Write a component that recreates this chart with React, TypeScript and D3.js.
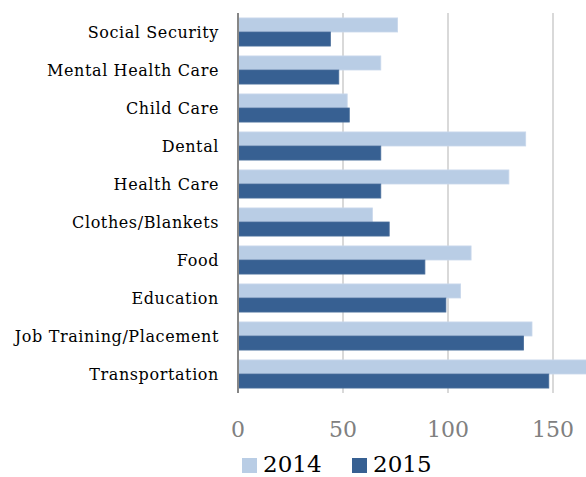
import React from 'react';
import * as d3 from 'd3';

const categories = [
  'Social Security',
  'Mental Health Care',
  'Child Care',
  'Dental',
  'Health Care',
  'Clothes/Blankets',
  'Food',
  'Education',
  'Job Training/Placement',
  'Transportation',
];
const values2014 = [76, 68, 52, 137, 129, 64, 111, 106, 140, 170];
const values2015 = [44, 48, 53, 68, 68, 72, 89, 99, 136, 148];
const seriesNames = ['2014', '2015'];
const xTicks = [0, 50, 100, 150];
const gridTicks = [50, 100, 150, 200];

const WIDTH = 586;
const HEIGHT = 477;
const LEFT = 238;
const TOP = 13;
const BOTTOM = 393;
const FONT = '"DejaVu Serif", "Liberation Serif", serif';
const colors = ['#b9cde5', '#376092'];

const App: React.FC = () => {
  const x = d3.scaleLinear().domain([0, 200]).range([LEFT, LEFT + 420]);
  const y = d3.scaleBand<string>().domain(categories).range([TOP, BOTTOM]).paddingInner(0.26).paddingOuter(0.13);
  const inner = d3.scaleBand<string>().domain(seriesNames).range([0, y.bandwidth()]);
  const series = [values2014, values2015];

  return (
    <svg width={WIDTH} height={HEIGHT} style={{ position: 'absolute', left: 0, top: 0, overflow: 'hidden' }}>
      {/* gridlines */}
      {gridTicks.map(t => (
        <line key={t} x1={x(t)} x2={x(t)} y1={TOP} y2={BOTTOM} stroke="#d9d9d9" strokeWidth={2} />
      ))}
      {/* bars */}
      {categories.map((c, i) => (
        <g key={c}>
          {series.map((vals, s) => (
            <rect
              key={s}
              x={x(0)}
              y={(y(c) ?? 0) + (inner(seriesNames[s]) ?? 0)}
              width={x(vals[i]) - x(0)}
              height={inner.bandwidth()}
              fill={colors[s]}
              stroke={s === 0 ? '#c9d8ec' : '#4a6f9c'}
              strokeWidth={0.8}
            />
          ))}
          <text
            x={219}
            y={(y(c) ?? 0) + y.bandwidth() / 2 + 1}
            textAnchor="end"
            dominantBaseline="middle"
            fontFamily={FONT}
            fontSize={16}
            letterSpacing={0.6}
            fill="#000"
          >
            {c}
          </text>
        </g>
      ))}
      {/* axis line */}
      <line x1={x(0)} x2={x(0)} y1={TOP} y2={BOTTOM} stroke="#868686" strokeWidth={2} />
      {/* tick labels */}
      {xTicks.map(t => (
        <text
          key={t}
          x={x(t)}
          y={431}
          textAnchor="middle"
          dominantBaseline="middle"
          fontFamily={FONT}
          fontSize={22}
          fill="#808080"
        >
          {t}
        </text>
      ))}
      {/* legend */}
      {seriesNames.map((n, s) => (
        <g key={n} transform={`translate(${s === 0 ? 242 : 352}, 458)`}>
          <rect x={0} y={0} width={15} height={15} fill={colors[s]} />
          <text x={21} y={8} dominantBaseline="middle" fontFamily={FONT} fontSize={23} fill="#000">
            {n}
          </text>
        </g>
      ))}
    </svg>
  );
};

export default App;
